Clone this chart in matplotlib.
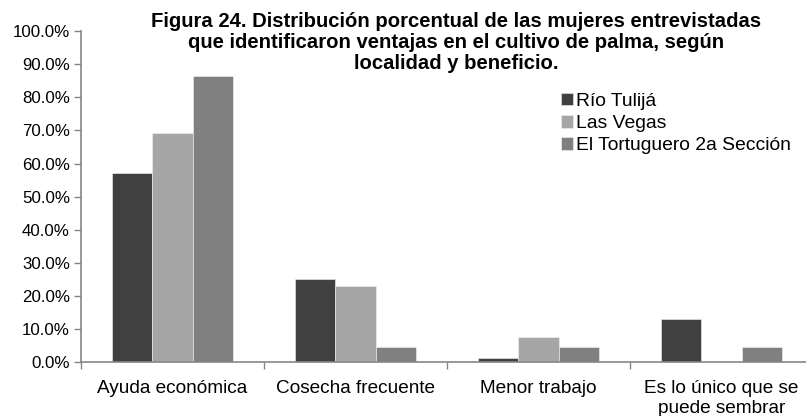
import matplotlib
matplotlib.use("Agg")
import matplotlib.pyplot as plt
import numpy as np

plt.rcParams["font.family"] = ["Liberation Sans", "DejaVu Sans"]

categories = ["Ayuda económica", "Cosecha frecuente", "Menor trabajo",
              "Es lo único que se\npuede sembrar"]
series = ["Río Tulijá", "Las Vegas", "El Tortuguero 2a Sección"]
rio_tulija = [57.1, 25.0, 1.2, 13.1]
las_vegas = [69.2, 23.1, 7.7, 0.0]
tortuguero = [86.4, 4.5, 4.5, 4.5]
colors = ["#404040", "#a6a6a6", "#808080"]

title = ("Figura 24. Distribución porcentual de las mujeres entrevistadas\n"
         "que identificaron ventajas en el cultivo de palma, según\n"
         "localidad y beneficio.")

fig = plt.figure(figsize=(8.06, 4.16), dpi=100)
ax = fig.add_axes([81 / 806, 1 - 362.3 / 416, 732 / 806, 331.3 / 416])

x = np.arange(len(categories))
w = 0.22
for i, (vals, name) in enumerate(zip([rio_tulija, las_vegas, tortuguero], series)):
    ax.bar(x + (i - 1) * w, vals, width=w, color=colors[i], label=name,
           edgecolor="#f2f2f2", linewidth=0.4)

ax.set_xlim(-0.5, 3.5)
ax.set_ylim(0, 100)
ax.set_yticks(np.arange(0, 101, 10))
ax.set_yticklabels([f"{v:.1f}%" for v in np.arange(0, 101, 10)], fontsize=12.2)

ax.set_xticks(x)
ax.set_xticklabels(categories, fontsize=13.7, linespacing=1.2)
ax.set_xticks(np.arange(-0.5, 4, 1), minor=True)
ax.tick_params(axis="x", which="major", length=0, pad=13)
ax.tick_params(axis="x", which="minor", length=5, color="#868686", width=1)
ax.tick_params(axis="y", length=5, color="#868686", width=1, pad=3)

for s in ["top", "right"]:
    ax.spines[s].set_visible(False)
for s in ["left", "bottom"]:
    ax.spines[s].set_color("#868686")
    ax.spines[s].set_linewidth(1.2)

fig.text(456 / 806, 1 - 12 / 416, title, ha="center", va="top",
         fontsize=14.6, fontweight="bold", linespacing=1.12)

ax.legend(loc="upper left", bbox_to_anchor=(561 / 806, 1 - 93 / 416),
          bbox_transform=fig.transFigure, frameon=False, fontsize=13.9,
          handlelength=0.6, handleheight=0.6, handletextpad=0.2,
          labelspacing=0.27, borderpad=0, borderaxespad=0)

plt.savefig("out.png", dpi=100)
plt.close()
